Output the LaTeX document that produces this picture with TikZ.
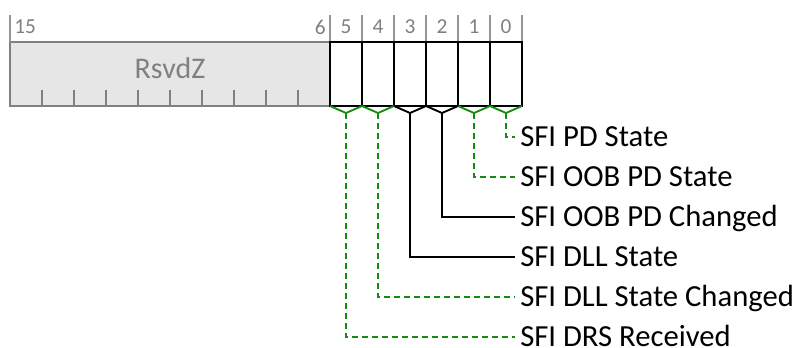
\documentclass[tikz,border=0pt]{standalone}
\usepackage{fontspec}
\setmainfont{Carlito}
\definecolor{grn}{RGB}{20,140,20}
\definecolor{fillgrey}{RGB}{230,230,230}
\definecolor{boxgrey}{RGB}{128,128,128}
\definecolor{tickgrey}{RGB}{150,150,150}
\begin{document}
\begin{tikzpicture}[x=0.75pt,y=-0.75pt,
  lbl/.style={anchor=west,inner xsep=3.75pt,inner ysep=0pt,text height=14.8pt,text depth=0pt,font=\fontsize{23}{26}\selectfont},
  bitnum/.style={inner sep=0pt,text=boxgrey,font=\fontsize{16}{18}\selectfont},
  gconn/.style={draw=grn,line width=1.2pt,dash pattern=on 4.5pt off 3pt},
  kconn/.style={draw=black,line width=1.2pt},
  gvee/.style={draw=grn,line width=1.4pt},
  kvee/.style={draw=black,line width=1.4pt}]
\useasboundingbox (0,0) rectangle (797,347);
% reserved field
\fill[fillgrey] (10,42) rectangle (330,106);
\draw[boxgrey,line width=2.2pt] (10,42) rectangle (330,106);
\foreach \i in {1,...,9} \draw[boxgrey,line width=1.3pt] (10+32*\i,106) -- (10+32*\i,90);
\node[text=boxgrey,font=\fontsize{22.5}{25}\selectfont] (rsvd) at (170,68) {RsvdZ};
% top ticks
\foreach \x in {10,330,362,394,426,458,490,522} \draw[tickgrey,line width=1.3pt] (\x,15) -- (\x,42);
\node[bitnum,anchor=west] (n15) at (14,27) {15};
\node[bitnum,anchor=east] (n6) at (326,27) {6};
\foreach \b in {0,...,5} \node[bitnum] (n\b) at (506-32*\b,27) {\b};
% cells
\draw[black,line width=2.2pt] (330,42) rectangle (522,106);
\foreach \x in {362,394,426,458,490} \draw[black,line width=2.2pt] (\x,42) -- (\x,106);
% vees
\foreach \b/\st in {0/gvee,1/gvee,2/kvee,3/kvee,4/gvee,5/gvee}{
  \draw[\st] (490-32*\b,106) -- (506-32*\b,113) coordinate (t\b) -- (522-32*\b,106);
}
% labels
\node[lbl] (l0) at (515,136.7) {SFI PD State};
\node[lbl] (l1) at (515,176.7) {SFI OOB PD State};
\node[lbl] (l2) at (515,216.7) {SFI OOB PD Changed};
\node[lbl] (l3) at (515,256.7) {SFI DLL State};
\node[lbl] (l4) at (515,296.7) {SFI DLL State Changed};
\node[lbl] (l5) at (515,336.7) {SFI DRS Received};
% connectors
\draw[gconn] (t0) |- (l0.west);
\draw[gconn] (t1) |- (l1.west);
\draw[kconn] (t2) |- (l2.west);
\draw[kconn] (t3) |- (l3.west);
\draw[gconn] (t4) |- (l4.west);
\draw[gconn] (t5) |- (l5.west);
\end{tikzpicture}
\end{document}
